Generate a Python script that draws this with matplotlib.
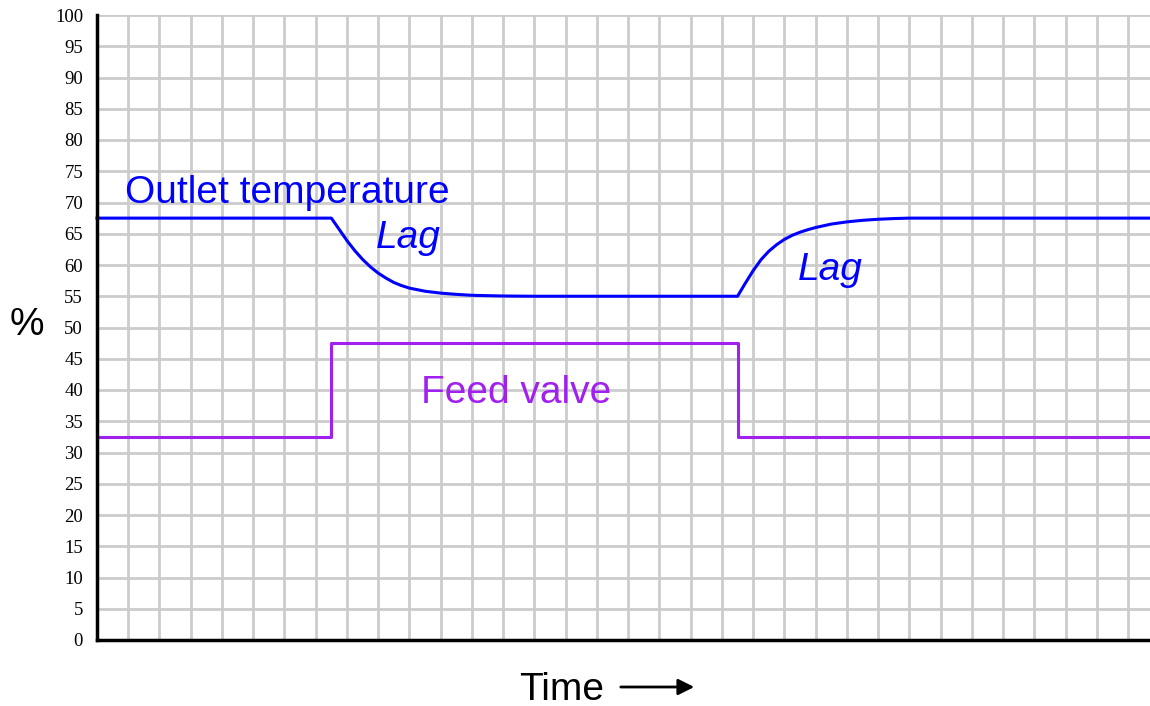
import matplotlib.pyplot as plt
import numpy as np

# time in grid divisions, values in percent
valve_t = [0, 7.5, 7.5, 20.5, 20.5, 33.7]
valve_pct = [32.5, 32.5, 47.5, 47.5, 32.5, 32.5]

temp_t = [0, 7.5, 7.75, 8.0, 8.25, 8.5, 8.75, 9.0, 9.25, 9.5, 9.75, 10.0,
          10.5, 11.0, 11.5, 12.0, 13.0, 14.0,
          20.5, 20.75, 21.0, 21.25, 21.5, 21.75, 22.0, 22.25, 22.5, 22.75, 23.0,
          23.5, 24.0, 24.5, 25.0, 25.5, 26.0, 33.7]
temp_pct = [67.5, 67.5, 65.7, 63.9, 62.3, 60.9, 59.7, 58.7, 57.9, 57.2, 56.7, 56.3,
            55.8, 55.5, 55.3, 55.15, 55.04, 55.0,
            55.0, 57.1, 59.1, 60.85, 62.2, 63.25, 64.1, 64.75, 65.25, 65.65, 66.0,
            66.55, 66.9, 67.15, 67.32, 67.43, 67.5, 67.5]

y_ticks = list(range(0, 101, 5))

fig = plt.figure(figsize=(11.5, 7.06), dpi=100)
ax = fig.add_axes([97 / 1150, 1 - 640 / 706, 1 - 97 / 1150, 625 / 706])

ax.set_xlim(0, 33.7)
ax.set_ylim(0, 100)

# square grid
ax.set_xticks(np.arange(1, 34))
ax.set_yticks(y_ticks)
ax.set_yticklabels([str(v) for v in y_ticks], family="Liberation Serif", fontsize=13.5)
ax.tick_params(axis="both", length=0, pad=10)
ax.tick_params(axis="x", labelbottom=False)
ax.grid(True, color="#cccccc", linewidth=2)
ax.set_axisbelow(True)

for side in ["top", "right"]:
    ax.spines[side].set_visible(False)
for side in ["left", "bottom"]:
    ax.spines[side].set_linewidth(2.5)

ax.plot(valve_t, valve_pct, color="#a020f0", linewidth=2.2, clip_on=False)
ax.plot(temp_t, temp_pct, color="#0000ff", linewidth=2.2, clip_on=False,
        solid_joinstyle="round")

font = "Liberation Sans"
ax.text((125 - 97) / 31.25, 71.5, "Outlet temperature", color="#0000ff",
        fontsize=28, family=font, va="center", ha="left")
ax.text((408 - 97) / 31.25, 64.3, "Lag", color="#0000ff", fontsize=28, family=font,
        style="italic", ha="center", va="center")
ax.text((830 - 97) / 31.25, 59.2, "Lag", color="#0000ff", fontsize=28, family=font,
        style="italic", ha="center", va="center")
ax.text((516 - 97) / 31.25, 39.5, "Feed valve", color="#a020f0", fontsize=28, family=font,
        ha="center", va="center")

fig.text(27 / 1150, 1 - 325 / 706, "%", fontsize=28, family=font, ha="center", va="center")
fig.text(604 / 1150, 1 - 690 / 706, "Time", fontsize=28, family=font, ha="right", va="center")
fig.add_artist(plt.Annotation("", xy=(697 / 1150, 1 - 687 / 706), xytext=(618 / 1150, 1 - 687 / 706),
                              xycoords="figure fraction", textcoords="figure fraction",
                              arrowprops=dict(arrowstyle="-|>", color="black", lw=2,
                                              mutation_scale=24)))

plt.savefig("out.png", dpi=100)
